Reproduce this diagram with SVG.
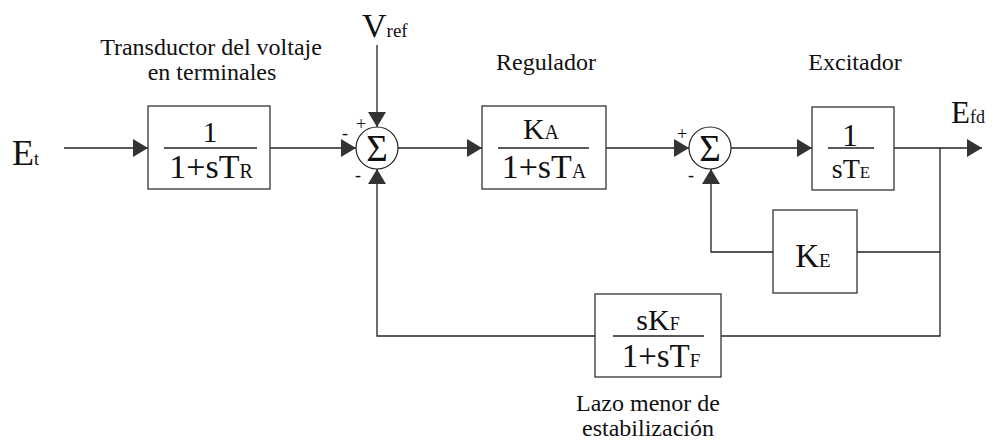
<svg xmlns="http://www.w3.org/2000/svg" width="999" height="444" viewBox="0 0 999 444" font-family="'Liberation Serif', 'DejaVu Serif', serif">
<style>
text{font-family:'Liberation Serif','DejaVu Serif',serif;fill:#111}
.box{fill:#fff;stroke:#333;stroke-width:1.3}
.sum{fill:#fff;stroke:#222;stroke-width:1.2}
.ln{fill:none;stroke:#222;stroke-width:1.3}
.frac{stroke:#222;stroke-width:1.3}
.lbl{font-size:24px;text-anchor:middle}
.sg{font-size:18px}
</style>
<defs>
<marker id="ar" viewBox="0 0 15 18" refX="15" refY="9" markerWidth="15" markerHeight="18" markerUnits="userSpaceOnUse" orient="auto">
<path d="M0,0 L15,9 L0,18 z" fill="#333"/>
</marker>
</defs>
<rect width="999" height="444" fill="#fff"/>

<g id="connectors">
<path class="ln" d="M64,148 H148" marker-end="url(#ar)"/>
<path class="ln" d="M270,148 H356" marker-end="url(#ar)"/>
<path class="ln" d="M377,45 V127" marker-end="url(#ar)"/>
<path class="ln" d="M398,148 H482" marker-end="url(#ar)"/>
<path class="ln" d="M606,148 H689" marker-end="url(#ar)"/>
<path class="ln" d="M731,148 H812" marker-end="url(#ar)"/>
<path class="ln" d="M894,148 H982" marker-end="url(#ar)"/>
<path class="ln" d="M940,148 V336 H721"/>
<path class="ln" d="M940,252 H857"/>
<path class="ln" d="M773,252 H711 V169" marker-end="url(#ar)"/>
<path class="ln" d="M595,336 H377 V169" marker-end="url(#ar)"/>
</g>

<g id="Et"><text x="12" y="165" font-size="36">E<tspan font-size="18">t</tspan></text></g>
<g id="Vref"><text x="362" y="37" font-size="34">V<tspan font-size="19">ref</tspan></text></g>
<g id="Efd"><text x="951" y="123" font-size="31">E<tspan font-size="18">fd</tspan></text></g>

<g id="transductor">
<text class="lbl" x="211" y="55">Transductor del voltaje</text>
<text class="lbl" x="212" y="80">en terminales</text>
<rect class="box" x="148" y="106" width="122" height="83"/>
<line class="frac" x1="164" y1="148" x2="257" y2="148"/>
<text x="210" y="142" font-size="30" text-anchor="middle">1</text>
<text x="211" y="178" font-size="34" text-anchor="middle">1+sT<tspan font-size="20">R</tspan></text>
</g>

<g id="sum1">
<circle class="sum" cx="377" cy="148" r="21"/>
<text x="377" y="161" font-size="37" text-anchor="middle">Σ</text>
<text class="sg" x="356" y="130">+</text>
<text class="sg" x="342" y="139">-</text>
<text class="sg" x="355" y="181">-</text>
</g>

<g id="regulador">
<text class="lbl" x="546" y="70">Regulador</text>
<rect class="box" x="482" y="106" width="124" height="83"/>
<line class="frac" x1="498" y1="148" x2="589" y2="148"/>
<text x="541" y="139" font-size="30" text-anchor="middle">K<tspan font-size="20">A</tspan></text>
<text x="544" y="178" font-size="34" text-anchor="middle">1+sT<tspan font-size="20">A</tspan></text>
</g>

<g id="sum2">
<circle class="sum" cx="710" cy="148" r="21"/>
<text x="710" y="161" font-size="37" text-anchor="middle">Σ</text>
<text class="sg" x="677" y="140">+</text>
<text class="sg" x="688" y="181">-</text>
</g>

<g id="excitador">
<text class="lbl" x="855" y="70">Excitador</text>
<rect class="box" x="812" y="107" width="82" height="83"/>
<line class="frac" x1="828" y1="148" x2="874" y2="148"/>
<text x="850" y="146" font-size="32" text-anchor="middle">1</text>
<text x="851" y="178" font-size="28" text-anchor="middle">sT<tspan font-size="17">E</tspan></text>
</g>

<g id="KE">
<rect class="box" x="773" y="210" width="84" height="83"/>
<text x="813" y="267" font-size="33" text-anchor="middle">K<tspan font-size="19">E</tspan></text>
</g>

<g id="estabilizacion">
<rect class="box" x="595" y="294" width="126" height="83"/>
<line class="frac" x1="613" y1="336" x2="704" y2="336"/>
<text x="658" y="330" font-size="30" text-anchor="middle">sK<tspan font-size="18">F</tspan></text>
<text x="661" y="367" font-size="33" text-anchor="middle">1+sT<tspan font-size="19">F</tspan></text>
<text class="lbl" x="648" y="411">Lazo menor de</text>
<text class="lbl" x="648" y="436">estabilización</text>
</g>
</svg>
